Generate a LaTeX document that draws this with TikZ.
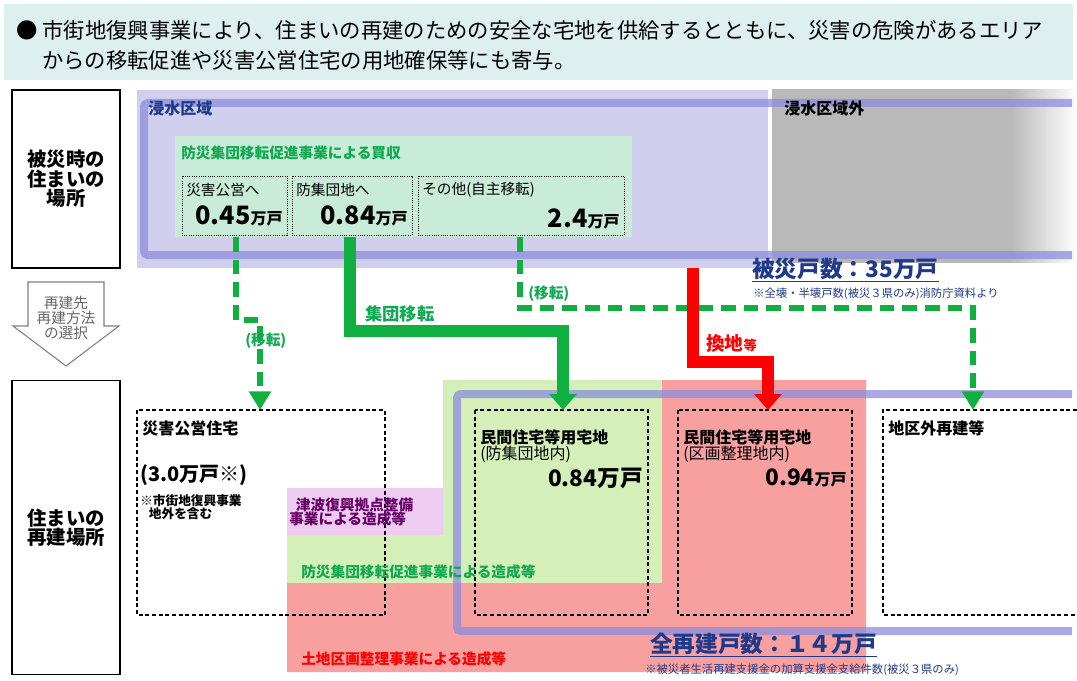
\documentclass[tikz,border=0pt]{standalone}
\usepackage{fontspec}
\setmainfont{Noto Sans CJK JP}
\usetikzlibrary{arrows.meta}
\definecolor{hdr}{HTML}{DDEFEF}
\definecolor{purp}{HTML}{D0D0EE}
\definecolor{frm}{HTML}{8C8CDC}
\definecolor{gbox}{HTML}{C8ECD8}
\definecolor{gtxt}{HTML}{10A850}
\definecolor{gline}{HTML}{10B040}
\definecolor{larea}{HTML}{D4F0B8}
\definecolor{rarea}{HTML}{F8A0A0}
\definecolor{parea}{HTML}{EECCF2}
\definecolor{navy}{HTML}{1F3A8A}
\newcommand{\fs}[1]{\fontsize{#1}{#1}\selectfont}
\tikzset{
 lab/.style={anchor=west,inner sep=0pt,align=left},
 dbox/.style={draw,densely dashed,line width=0.8pt},
 dotbox/.style={draw,densely dotted,line width=0.7pt},
 gdash/.style={draw=gline,line width=3.8pt,dash pattern=on 11pt off 6pt},
 thick g/.style={draw=gline,line width=9pt},
 thick r/.style={draw=red,line width=9pt},
 frameline/.style={draw=frm,line width=6pt,opacity=0.75,rounded corners=3pt},
}
\begin{document}
\begin{tikzpicture}[x=0.75pt,y=-0.75pt]
\useasboundingbox (0,0) rectangle (1077,681);
% header
\fill[hdr] (4,4) rectangle (1073,80);
\node[lab] (h1) at (16,30) {\fs{16}●\ 市街地復興事業により、住まいの再建のための安全な宅地を供給するとともに、災害の危険があるエリア};
\node[lab] (h2) at (42,60) {\fs{16}からの移転促進や災害公営住宅の用地確保等にも寄与。};
% left boxes
\node[draw,line width=0.8pt,minimum width=81pt,minimum height=133.5pt,align=center,font=\bfseries\fs{14.5}] (L1) at (66,179) {被災時の\\住まいの\\場所};
\node[draw,line width=0.8pt,minimum width=81pt,minimum height=221pt,align=center,font=\bfseries\fs{14.5}] (L2) at (66,527.5) {住まいの\\再建場所};
\draw[gray,line width=0.8pt,fill=white] (28,282) -- (104,282) -- (104,326) -- (119,326) -- (66,366) -- (13,326) -- (28,326) -- cycle;
\node[align=center,text=gray!80!black,font=\fs{11}] (arr) at (66,318) {再建先\\再建方法\\の選択};
% top areas
\fill[purp] (137,90) rectangle (768,268);
\shade[left color=gray!55,right color=gray!55] (772,90) rectangle (1010,262);
\shade[left color=gray!55,right color=white] (1010,90) rectangle (1077,262);
\draw[frameline] (1072,103) -- (144,103) -- (144,255) -- (1072,255);
\node[lab,text=navy,font=\bfseries\fs{12}] (t1) at (148,108) {浸水区域};
\node[lab,font=\bfseries\fs{12}] (t2) at (784,108) {浸水区域外};
\fill[gbox] (175,136) rectangle (632,237);
\node[lab,text=gtxt,font=\bfseries\fs{11}] (t3) at (181,153) {防災集団移転促進事業による買収};
\draw[dotbox] (182,176) rectangle (287,235);
\draw[dotbox] (292,176) rectangle (412,235);
\draw[dotbox] (418,176) rectangle (624,235);
\node[lab,font=\fs{11}] (b1) at (186,190) {災害公営へ};
\node[lab,font=\fs{11}] (b2) at (296,190) {防集団地へ};
\node[lab,font=\fs{11}] (b3) at (422,190) {その他(自主移転)};
\node[anchor=east,inner sep=0pt,font=\bfseries] (v1) at (283,216) {\fs{19}0.45\fs{12}万戸};
\node[anchor=east,inner sep=0pt,font=\bfseries] (v2) at (408,216) {\fs{19}0.84\fs{12}万戸};
\node[anchor=east,inner sep=0pt,font=\bfseries] (v3) at (620,219) {\fs{19}2.4\fs{12}万戸};
% bottom areas
\fill[larea] (443,380) -- (662,380) -- (662,583) -- (287,583) -- (287,488) -- (443,488) -- cycle;
\fill[rarea] (662,380) -- (866,380) -- (866,672) -- (287,672) -- (287,583) -- (662,583) -- cycle;
\fill[parea] (287,488) rectangle (443,535);
\draw[frameline] (1072,394) -- (457,394) -- (457,631) -- (1072,631);
% dashed boxes
\draw[dbox] (137,410) rectangle (385,615);
\draw[dbox] (475,410) rectangle (648,615);
\draw[dbox] (678,410) rectangle (852,615);
\draw[dbox] (1077,410) -- (883,410) -- (883,615) -- (1077,615);
\node[lab,font=\bfseries\fs{12}] (c1) at (142,428) {災害公営住宅};
\node[lab,font=\bfseries\fs{15}] (c1v) at (140,475) {(3.0万戸※)};
\node[lab,font=\bfseries\fs{9.5}] (c1n) at (140,507) {※市街地復興事業\\\ \ \ 地外を含む};
\node[lab,font=\fs{12}] (c2) at (480,446) {\textbf{民間住宅等用宅地}\\(防集団地内)};
\node[anchor=east,inner sep=0pt,font=\bfseries\fs{17}] (c2v) at (643,478) {0.84万戸};
\node[lab,font=\fs{12}] (c3) at (683,446) {\textbf{民間住宅等用宅地}\\(区画整理地内)};
\node[anchor=east,inner sep=0pt,font=\bfseries] (c3v) at (847,478) {\fs{17}0.94\fs{12}万戸};
\node[lab,font=\bfseries\fs{12}] (c4) at (888,428) {地区外再建等};
\node[lab,text=violet!80!black,font=\bfseries\fs{11}] (p1) at (289,512) {\ \ 津波復興拠点整備\\事業による造成等};
\node[lab,text=gtxt,font=\bfseries\fs{11}] (p2) at (301,572) {防災集団移転促進事業による造成等};
\node[lab,text=red,font=\bfseries\fs{11}] (p3) at (301,659) {土地区画整理事業による造成等};
% totals
\node[lab,text=navy,font=\bfseries\fs{17}] (tot1) at (752,270) {\underline{被災戸数：35万戸}};
\node[lab,text=navy,font=\fs{8.5}] (tot1n) at (753,294) {※全壊・半壊戸数(被災３県のみ)消防庁資料より};
\node[lab,text=navy,font=\bfseries\fs{17}] (tot2) at (650,645) {\underline{全再建戸数：１４万戸}};
\node[lab,text=navy,font=\fs{8.5}] (tot2n) at (645,670) {※被災者生活再建支援金の加算支援金支給件数(被災３県のみ)};
% connectors
\coordinate (e1) at (260,410); \coordinate (e2) at (563,410);
\coordinate (e3) at (768,410); \coordinate (e4) at (973,410);
\draw[gdash,-{Triangle[length=14pt,width=16pt]}] (236,237) -- (236,320) -- (260,320) -- (e1);
\draw[gdash,-{Triangle[length=14pt,width=16pt]}] (520,237) -- (520,308) -- (973,308) -- (e4);
\draw[thick g,-{Triangle[length=12pt,width=20pt]}] (350,237) -- (350,331) -- (563,331) -- (e2);
\draw[thick r,-{Triangle[length=12pt,width=20pt]}] (693,268) -- (693,362) -- (768,362) -- (e3);
\node[lab,text=gtxt,font=\bfseries\fs{11}] (m1) at (245,341) {(移転)};
\node[lab,text=gtxt,font=\bfseries\fs{11}] (m2) at (528,294) {(移転)};
\node[lab,text=gtxt,font=\bfseries\fs{13}] (m3) at (365,314) {集団移転};
\node[lab,text=red,font=\bfseries] (m4) at (706,343) {\fs{14}換地\fs{10}等};
\end{tikzpicture}
\end{document}
